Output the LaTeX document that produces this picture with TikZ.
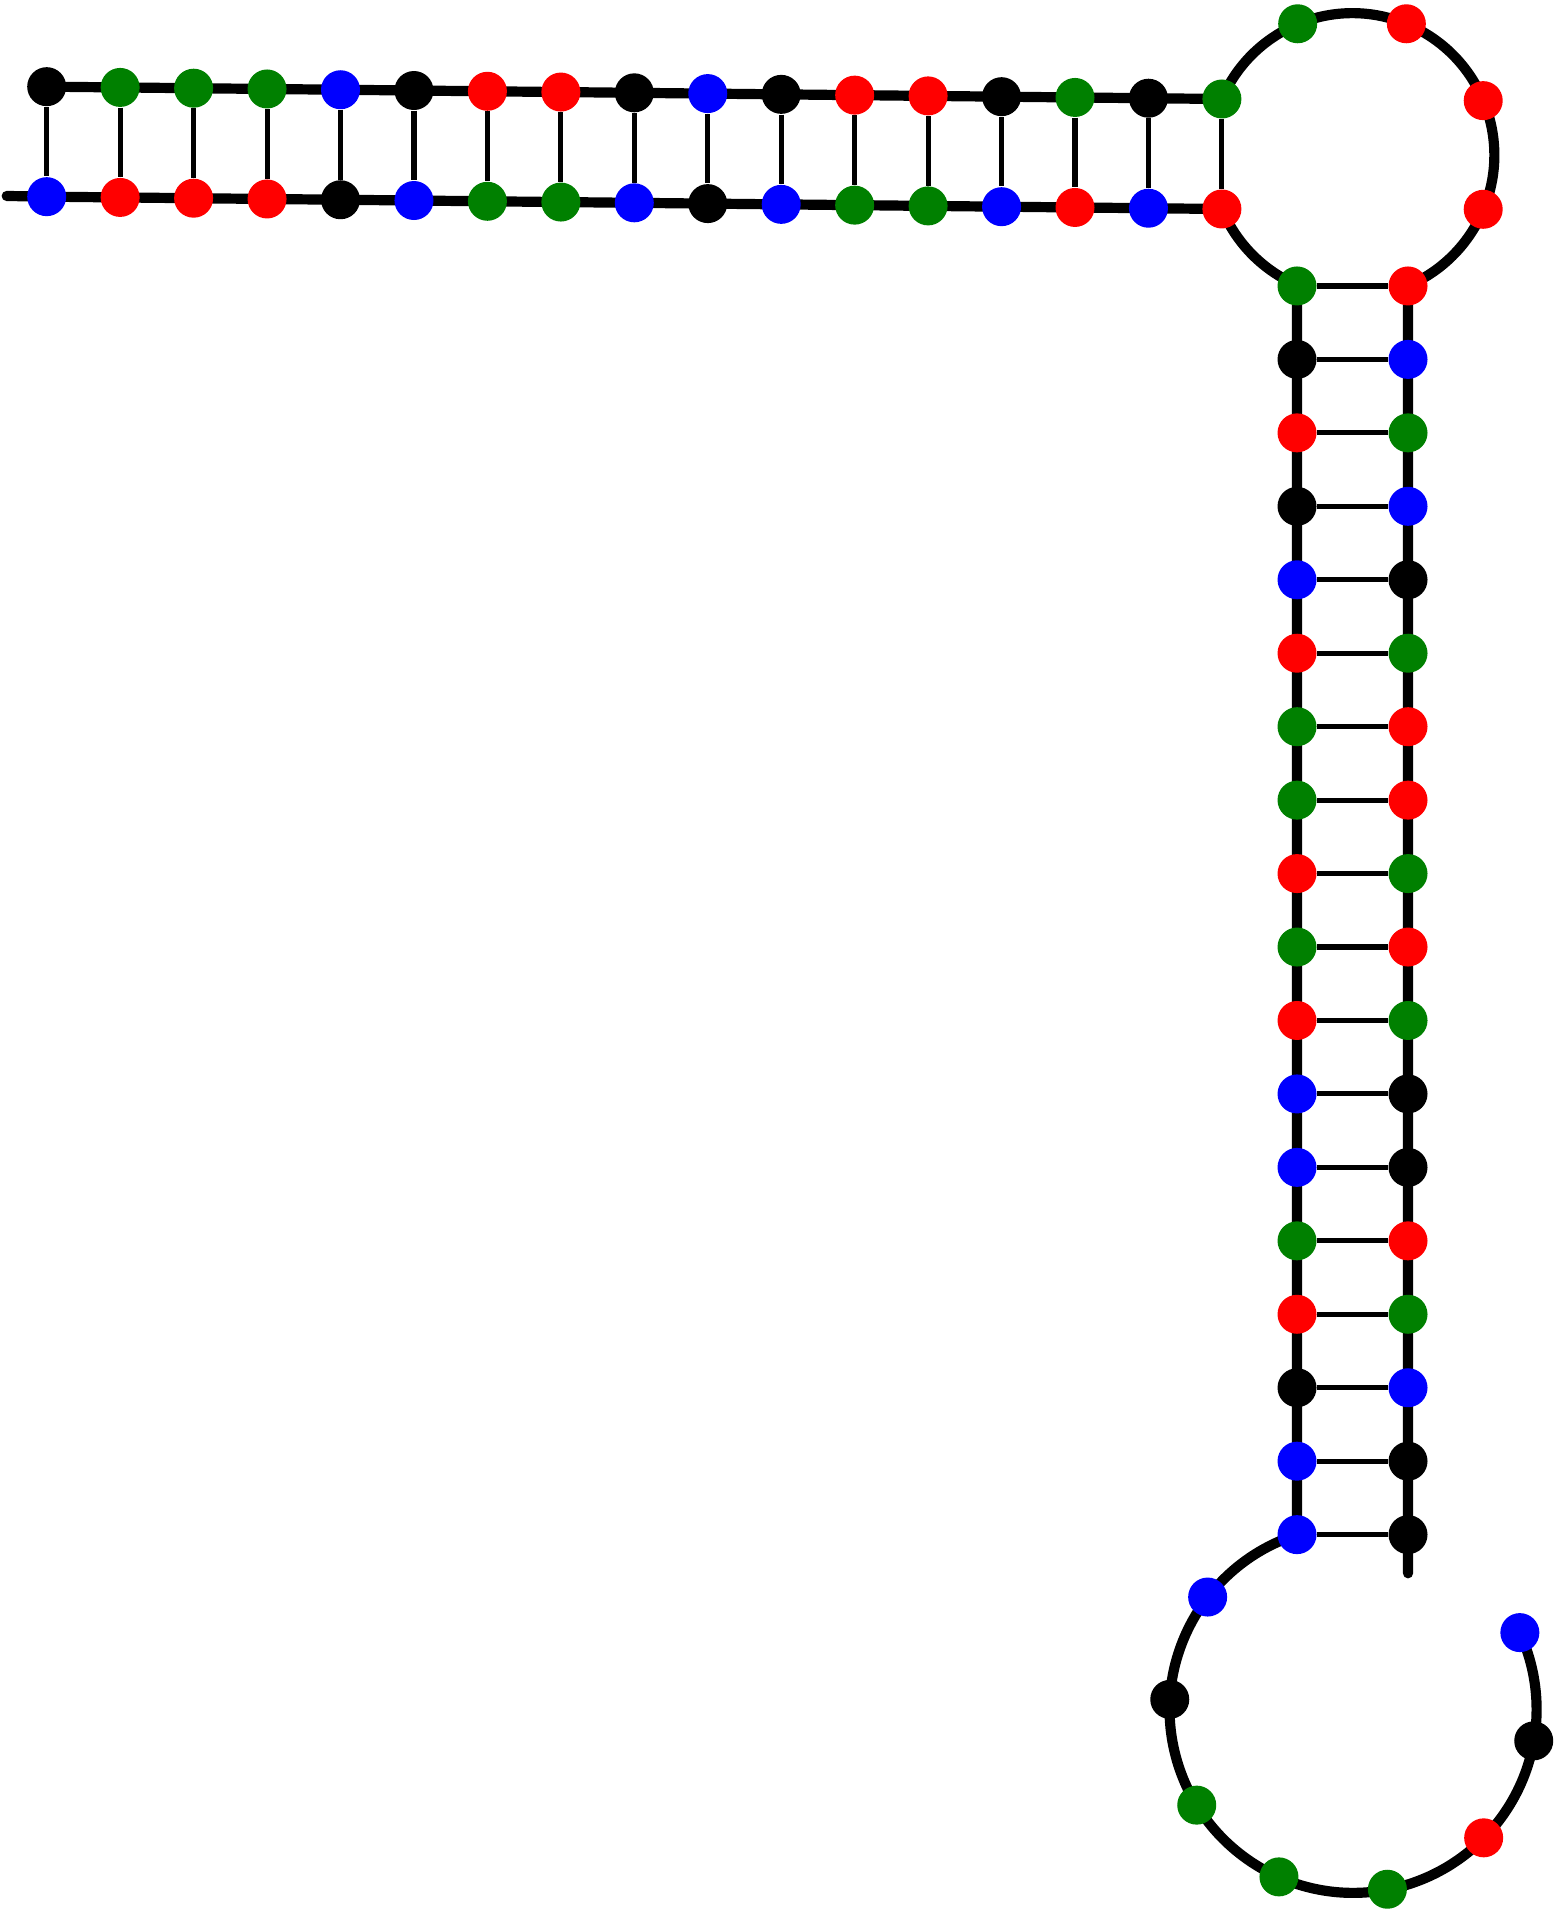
\documentclass[tikz,border=0pt]{standalone}
\usepackage{xcolor}
\usepackage{tikz}
\usetikzlibrary{calc,backgrounds}

\definecolor{nG}{RGB}{0,128,0}
\colorlet{nK}{black}
\colorlet{nR}{red}
\colorlet{nB}{blue}
\tikzset{
    base/.style={circle, inner sep=0pt, minimum size=0.39cm},
    backbone/.style={line width=2.9pt, line cap=round, line join=round},
    pair/.style={line width=1.45pt}
}

\begin{document}
\begin{tikzpicture}
    \useasboundingbox (0,0) rectangle (15.54,19.12);
    \coordinate (hc) at (13.52,17.57);
    \coordinate (lc) at (13.53,2.03);
    \coordinate (start) at (0.067,17.16);
    \coordinate (stop) at (14.08,3.387);

    % Top stem
    \foreach \c [count=\i from 0] in {K,G,G,G,B,K,R,R,K,B,K,R,R,K,G,K,G}
        \node[base, fill=n\c] (t\i) at ({0.467+0.7345*\i}, {18.253-0.0077*\i}) {};
    \foreach \c [count=\i from 0] in {B,R,R,R,K,B,G,G,B,K,B,G,G,B,R,B,R}
        \node[base, fill=n\c] (u\i) at ({0.467+0.7345*\i}, {17.153-0.0077*\i}) {};

    % Hairpin loop
    \foreach \c/\a [count=\j] in {G/112.5, R/67.5, R/22.5, R/-22.5}
        \node[base, fill=n\c] (h\j) at ($(hc)+(\a:1.42)$) {};

    % Long stem
    \foreach \c [count=\k from 0] in {G,K,R,K,B,R,G,G,R,G,R,B,B,G,R,K,B,B}
        \node[base, fill=n\c] (l\k) at (12.97, {16.26-0.7345*\k}) {};
    \foreach \c [count=\k from 0] in {R,B,G,B,K,G,R,R,G,R,G,K,K,R,G,B,K,K}
        \node[base, fill=n\c] (r\k) at (14.08, {16.26-0.7345*\k}) {};

    % Open loop
    \foreach \c [count=\j] in {B,K,G,G,G,R,K,B}
        \node[base, fill=n\c] (m\j) at ($(lc)+({107.8+34.6*\j}:1.835)$) {};

    \begin{scope}[on background layer]
        % Backbone
        \draw[backbone] (start) -- (u0.center) \foreach \i in {1,...,16} {-- (u\i.center)}
            arc[start angle=202.5, end angle=247.5, radius=1.42]
            -- (l0.center) \foreach \k in {1,...,17} {-- (l\k.center)}
            arc[start angle=107.8, end angle=384.6, radius=1.835];
        \draw[backbone] (t0.center) \foreach \i in {1,...,16} {-- (t\i.center)}
            arc[start angle=156.7, end angle=-67.5, radius=1.42]
            -- (r0.center) \foreach \k in {1,...,17} {-- (r\k.center)} -- (stop);

        % Pairs
        \foreach \i in {0,...,16} \draw[pair] (t\i) -- (u\i);
        \foreach \k in {0,...,17} \draw[pair] (l\k) -- (r\k);
    \end{scope}
\end{tikzpicture}
\end{document}
